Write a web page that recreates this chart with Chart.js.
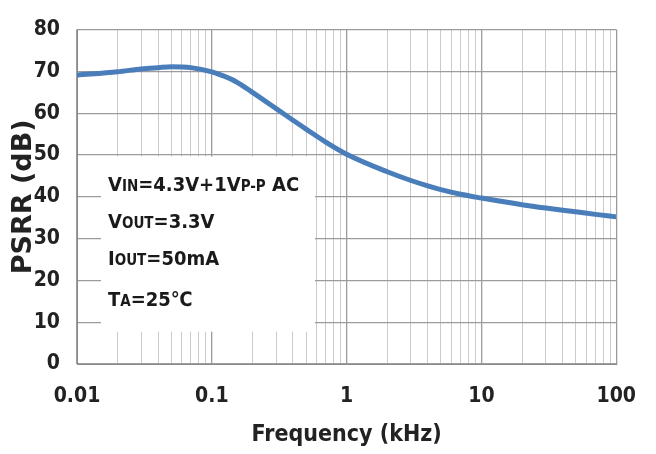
<!DOCTYPE html>
<html>
<head>
<meta charset="utf-8">
<script src="https://cdn.jsdelivr.net/npm/chart.js@4/dist/chart.umd.min.js"></script>
<style>
  html, body { margin: 0; padding: 0; background: #ffffff; }
  #wrap { width: 656px; height: 454px; position: relative; }
</style>
</head>
<body>
<div id="wrap"><canvas id="c" width="656" height="454"></canvas></div>
<script>
// ---- data ----
const frequencyKHz = [0.01, 0.02, 0.03, 0.04, 0.05, 0.07, 0.1, 0.12, 0.15, 0.2, 0.3, 0.4, 0.5, 0.7, 1, 2, 3, 4, 5, 7, 10, 20, 30, 50, 70, 100];
const psrrDb = [69.1, 69.9, 70.6, 70.9, 71.1, 70.9, 69.9, 69.0, 67.6, 65.0, 61.1, 58.3, 56.2, 53.1, 50.2, 46.0, 43.9, 42.6, 41.7, 40.6, 39.7, 38.1, 37.3, 36.4, 35.8, 35.2];
const xTickValues = [0.01, 0.02, 0.03, 0.04, 0.05, 0.06, 0.07, 0.08, 0.09,
                     0.1, 0.2, 0.3, 0.4, 0.5, 0.6, 0.7, 0.8, 0.9,
                     1, 2, 3, 4, 5, 6, 7, 8, 9,
                     10, 20, 30, 40, 50, 60, 70, 80, 90, 100];
const xTickLabels = {0.01: '0.01', 0.1: '0.1', 1: '1', 10: '10', 100: '100'};
const yTickValues = [0, 10, 20, 30, 40, 50, 60, 70, 80];
const conditionLines = [
  [['V', 0], ['IN', 1], ['=4.3V+1V', 0], ['P-P', 1], [' AC', 0]],
  [['V', 0], ['OUT', 1], ['=3.3V', 0]],
  [['I', 0], ['OUT', 1], ['=50mA', 0]],
  [['T', 0], ['A', 1], ['=25\u2103', 0]]
];

const FONT = "'Liberation Sans Narrow', 'DejaVu Sans Condensed', 'Arial Narrow', sans-serif";
const FONT_WIDE = "'DejaVu Sans', sans-serif";
const isDecade = v => Object.prototype.hasOwnProperty.call(xTickLabels, v);

const conditionsBox = {
  id: 'conditionsBox',
  beforeDatasetsDraw(chart) {
    const ctx = chart.ctx;
    const a = chart.chartArea;
    const bx = a.left + 24, by = a.top + 127, bw = 214, bh = 175;
    ctx.save();
    ctx.fillStyle = '#ffffff';
    ctx.fillRect(bx, by, bw, bh);
    ctx.fillStyle = '#1a1a1a';
    ctx.textBaseline = 'alphabetic';
    ctx.textAlign = 'left';
    const big = 20, small = 15;
    const baselines = [161, 198, 235, 276];
    conditionLines.forEach((segs, i) => {
      let x = a.left + 31;
      const y = a.top + baselines[i];
      segs.forEach(([t, s]) => {
        ctx.font = 'bold ' + (s ? small : big) + 'px ' + FONT;
        ctx.fillText(t, x, y);
        x += ctx.measureText(t).width;
      });
    });
    ctx.restore();
  }
};

new Chart(document.getElementById('c'), {
  type: 'line',
  data: {
    datasets: [{
      data: frequencyKHz.map((f, i) => ({x: f, y: psrrDb[i]})),
      borderColor: '#4a7ebb',
      borderWidth: 5,
      pointRadius: 0,
      fill: false,
      cubicInterpolationMode: 'monotone'
    }]
  },
  options: {
    responsive: false,
    animation: false,
    devicePixelRatio: 1,
    layout: { padding: { left: 0, right: 18, top: 20, bottom: 0 } },
    plugins: { legend: { display: false }, tooltip: { enabled: false } },
    scales: {
      x: {
        type: 'logarithmic',
        min: 0.01,
        max: 100,
        afterBuildTicks(scale) { scale.ticks = xTickValues.map(v => ({ value: v })); },
        afterFit(scale) { scale.height = 90; },
        border: { display: true, color: '#8a8a8a', width: 1 },
        grid: {
          drawTicks: false,
          color: ctx => (ctx.tick && isDecade(ctx.tick.value)) ? '#9c9c9c' : '#cbcbcb',
          lineWidth: ctx => (ctx.tick && isDecade(ctx.tick.value)) ? 1.3 : 1
        },
        ticks: {
          autoSkip: false,
          maxRotation: 0,
          padding: 20,
          color: '#222222',
          font: { family: FONT, size: 21, weight: 'bold' },
          callback: v => xTickLabels[v] !== undefined ? xTickLabels[v] : ''
        },
        title: {
          display: true,
          text: 'Frequency (kHz)',
          color: '#222222',
          font: { family: FONT, size: 23, weight: 'bold' },
          padding: { top: 0, bottom: 5 }
        }
      },
      y: {
        min: 0,
        max: 80,
        afterBuildTicks(scale) { scale.ticks = yTickValues.map(v => ({ value: v })); },
        afterFit(scale) { scale.width = 77; },
        border: { display: true, color: '#8a8a8a', width: 1 },
        grid: { drawTicks: false, color: '#9c9c9c', lineWidth: 1.3 },
        ticks: {
          padding: 17,
          color: '#222222',
          font: { family: FONT, size: 21, weight: 'bold' }
        },
        title: {
          display: true,
          text: 'PSRR (dB)',
          color: '#222222',
          font: { family: FONT_WIDE, size: 27, weight: 'bold' },
          padding: { top: 8, bottom: 0 }
        }
      }
    }
  },
  plugins: [conditionsBox]
});
</script>
</body>
</html>
